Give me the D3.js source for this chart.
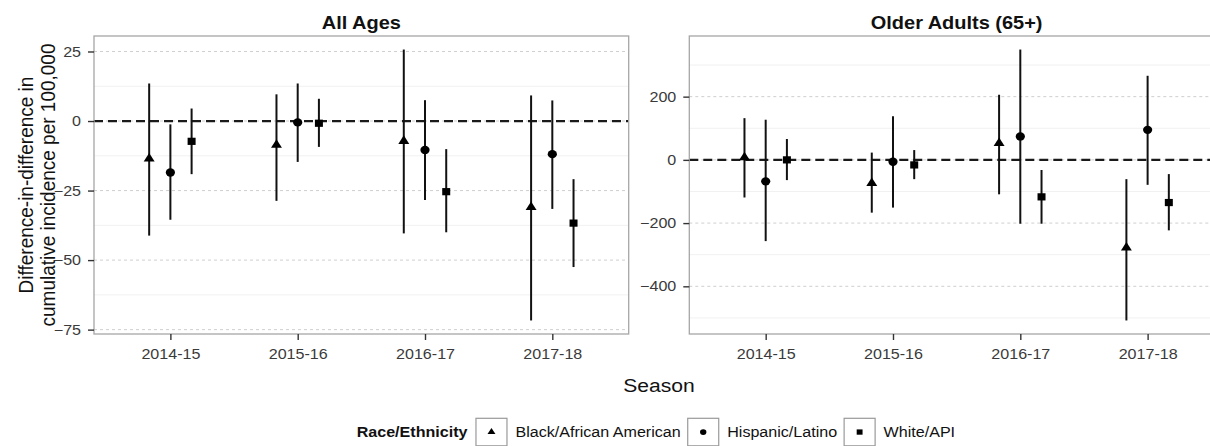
<!DOCTYPE html>
<html>
<head>
<meta charset="utf-8">
<script src="https://cdn.jsdelivr.net/npm/d3@7"></script>
<style>
  html, body { margin: 0; padding: 0; background: #fff; }
  svg { display: block; }
  text { font-family: "Liberation Sans", Arial, sans-serif; }
</style>
</head>
<body>
<svg id="chart" width="1210" height="446"></svg>
<script>
// ---------------- DATA ----------------
const seasons = ["2014-15", "2015-16", "2016-17", "2017-18"];
const groups = ["Black/African American", "Hispanic/Latino", "White/API"];
const shapes = ["triangle", "circle", "square"];

// All Ages: rows = groups, cols = seasons
const allAgesEst  = [[-13.5, -8.6, -7.2, -31.0], [-18.5, -0.5, -10.4, -11.9], [-7.3, -0.8, -25.4, -36.7]];
const allAgesLow  = [[-41.2, -28.7, -40.4, -71.7], [-35.5, -14.7, -28.4, -31.6], [-19.1, -9.3, -40.0, -52.5]];
const allAgesHigh = [[13.5, 9.6, 25.7, 9.2], [-1.2, 13.5, 7.5, 7.4], [4.5, 8.0, -10.1, -20.9]];

// Older Adults (65+)
const olderEst  = [[8, -74, 53, -278], [-68, -6, 74, 95], [0, -16, -117, -135]];
const olderLow  = [[-119, -167, -109, -508], [-257, -151, -202, -79], [-64, -61, -202, -223]];
const olderHigh = [[132, 23, 206, -61], [127, 138, 349, 266], [66, 31, -32, -45]];

const allAgesTicks = [25, 0, -25, -50, -75];
const allAgesMinor = [12.5, -12.5, -37.5, -62.5];
const olderTicks = [200, 0, -200, -400];
const olderMinor = [300, 100, -100, -300, -500];

const panelTitles = ["All Ages", "Older Adults (65+)"];
const xTitle = "Season";
const yTitle = ["Difference-in-difference in", "cumulative incidence per 100,000"];
const legendTitle = "Race/Ethnicity";

// ---------------- LAYOUT ----------------
const STRETCH = 1.11;
const svg = d3.select("#chart");
const plotTop = 36, plotBottom = 334;
const panels = [
  { x0: 94, x1: 628.7, est: allAgesEst, lo: allAgesLow, hi: allAgesHigh, ticks: allAgesTicks, minor: allAgesMinor, title: panelTitles[0] },
  { x0: 689.3, x1: 1224, est: olderEst, lo: olderLow, hi: olderHigh, ticks: olderTicks, minor: olderMinor, title: panelTitles[1] }
];

function stretch(sel, origin) {
  sel.style("transform-box", "fill-box")
     .style("transform-origin", origin)
     .style("transform", `scaleX(${STRETCH})`);
}

function symbolFor(shape, big) {
  if (shape === "triangle") return d3.symbol().type(d3.symbolTriangle).size(big ? 42 : 22)();
  if (shape === "circle") return d3.symbol().type(d3.symbolCircle).size(big ? 54 : 26)();
  return d3.symbol().type(d3.symbolSquare).size(big ? 52 : 28)();
}

panels.forEach(p => {
  const all = [].concat(...p.lo, ...p.hi);
  const mn = d3.min(all), mx = d3.max(all);
  const pad = (mx - mn) * 0.05;
  const y = d3.scaleLinear().domain([mn - pad, mx + pad]).range([plotBottom, plotTop]);
  const x = d3.scalePoint().domain(seasons).range([p.x0, p.x1]).padding(0.6);
  const dodge = d3.scalePoint().domain(groups).range([-x.step() / 6, x.step() / 6]);

  const g = svg.append("g");
  g.append("rect").attr("x", p.x0).attr("y", plotTop).attr("width", p.x1 - p.x0).attr("height", plotBottom - plotTop)
    .attr("fill", "#fff");

  // minor grid
  g.selectAll(".minor").data(p.minor.filter(v => y(v) > plotTop && y(v) < plotBottom)).join("line")
    .attr("x1", p.x0).attr("x2", p.x1).attr("y1", d => y(d)).attr("y2", d => y(d))
    .attr("stroke", "#f1f1f1").attr("stroke-width", 1);
  // major grid
  g.selectAll(".major").data(p.ticks).join("line")
    .attr("x1", p.x0).attr("x2", p.x1).attr("y1", d => y(d)).attr("y2", d => y(d))
    .attr("stroke", "#cfcfcf").attr("stroke-width", 1).attr("stroke-dasharray", "3,3");

  // zero reference line
  g.append("line").attr("x1", p.x0).attr("x2", p.x1).attr("y1", y(0)).attr("y2", y(0))
    .attr("stroke", "#1a1a1a").attr("stroke-width", 2.2).attr("stroke-dasharray", "9,5");

  // error bars + points
  groups.forEach((grp, gi) => {
    seasons.forEach((s, si) => {
      const cx = x(s) + dodge(grp);
      g.append("line").attr("x1", cx).attr("x2", cx)
        .attr("y1", y(p.lo[gi][si])).attr("y2", y(p.hi[gi][si]))
        .attr("stroke", "#111").attr("stroke-width", 2);
      g.append("path").attr("d", symbolFor(shapes[gi], true))
        .attr("transform", `translate(${cx},${y(p.est[gi][si])}) scale(${STRETCH},1)`)
        .attr("fill", "#000");
    });
  });

  // border
  g.append("rect").attr("x", p.x0).attr("y", plotTop).attr("width", p.x1 - p.x0).attr("height", plotBottom - plotTop)
    .attr("fill", "none").attr("stroke", "#a6a6a6").attr("stroke-width", 1.3);

  // axes
  const ya = g.append("g").attr("transform", `translate(${p.x0},0)`)
    .call(d3.axisLeft(y).tickValues(p.ticks).tickSize(6).tickPadding(7).tickFormat(d3.format("d")));
  ya.select(".domain").remove();
  ya.selectAll("line").attr("stroke", "#333").attr("stroke-width", 1.4);
  ya.selectAll("text").attr("fill", "#3a3a3a").style("font-size", "14.5px").call(stretch, "right center");

  const xa = g.append("g").attr("transform", `translate(0,${plotBottom})`)
    .call(d3.axisBottom(x).tickSize(6).tickPadding(8.5));
  xa.select(".domain").remove();
  xa.selectAll("line").attr("stroke", "#333").attr("stroke-width", 1.4);
  xa.selectAll("text").attr("fill", "#3a3a3a").style("font-size", "14.5px").call(stretch, "center");

  // panel title
  g.append("text").attr("x", (p.x0 + p.x1) / 2).attr("y", 29).attr("text-anchor", "middle")
    .style("font-size", "18px").style("font-weight", "bold").attr("fill", "#111")
    .text(p.title).call(stretch, "center");
});

// axis titles
svg.append("text").attr("x", (94 + 1224) / 2).attr("y", 392).attr("text-anchor", "middle")
  .style("font-size", "19px").attr("fill", "#111").text(xTitle).call(stretch, "center");

[33, 55].forEach((bx, i) => {
  svg.append("text")
    .attr("transform", `translate(${bx},${(plotTop + plotBottom) / 2}) rotate(-90) scale(1,${STRETCH})`)
    .attr("text-anchor", "middle").style("font-size", "19px").attr("fill", "#111")
    .text(yTitle[i]);
});

// legend
const leg = svg.append("g");
const keyTop = 418.3, keyW = 31, keyH = 27.5, baseY = 437.5;
let lx = 356.7;
const lt = leg.append("text").attr("x", lx).attr("y", baseY).style("font-size", "14.5px")
  .style("font-weight", "bold").attr("fill", "#111").text(legendTitle).call(stretch, "left center");
lx += lt.node().getComputedTextLength() * STRETCH + 8.5;
groups.forEach((grp, gi) => {
  leg.append("rect").attr("x", lx).attr("y", keyTop).attr("width", keyW).attr("height", keyH)
    .attr("fill", "#fff").attr("stroke", "#9a9a9a").attr("stroke-width", 1.2);
  leg.append("path").attr("d", symbolFor(shapes[gi], false))
    .attr("transform", `translate(${lx + keyW / 2},${keyTop + keyH / 2}) scale(${STRETCH},1)`)
    .attr("fill", "#000");
  lx += keyW + 8.5;
  const t = leg.append("text").attr("x", lx).attr("y", baseY).style("font-size", "14.5px")
    .attr("fill", "#111").text(grp).call(stretch, "left center");
  lx += t.node().getComputedTextLength() * STRETCH + 7;
});
</script>
</body>
</html>
